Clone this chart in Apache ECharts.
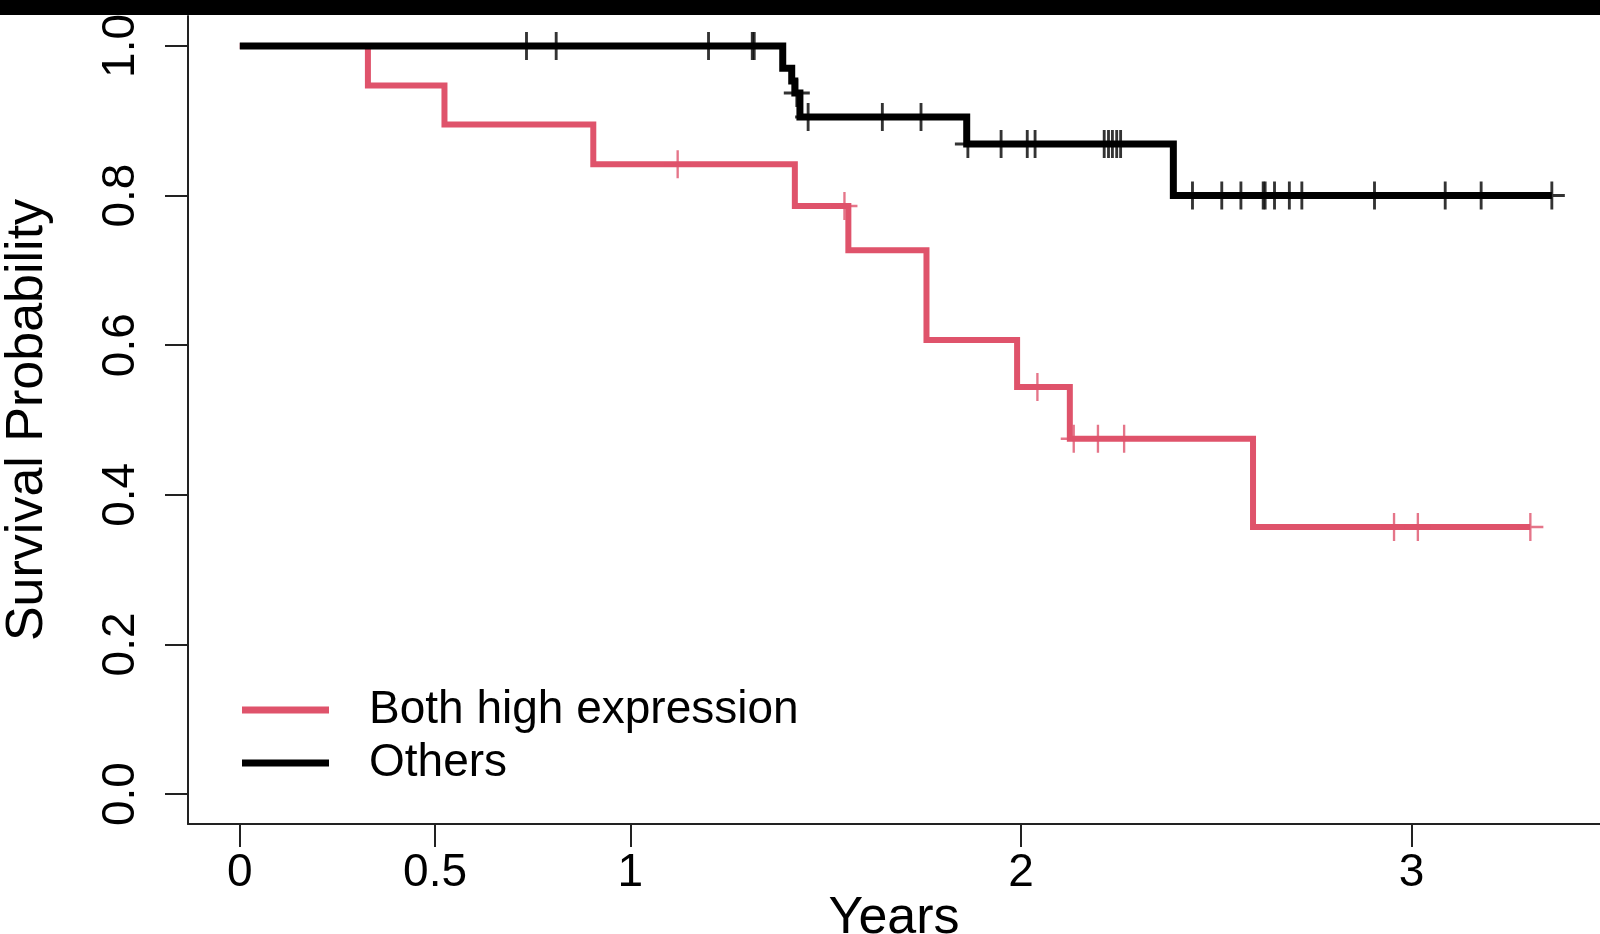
<!DOCTYPE html>
<html>
<head>
<meta charset="utf-8">
<script src="https://cdn.jsdelivr.net/npm/echarts@6/dist/echarts.min.js"></script>
<style>
  html, body { margin: 0; padding: 0; background: #fff; }
  #chart { width: 1600px; height: 934px; }
</style>
</head>
<body>
<div id="chart"></div>
<script>
// ---- Data (years, survival probability) ----
const seriesNames = ['Both high expression', 'Others'];
const seriesColors = ['#DF536B', '#000000'];

// Group 1: Both high expression — event times and survival after each step
const redTimes = [0, 0.328, 0.524, 0.905, 1.421, 1.558, 1.758, 1.990, 2.125, 2.594];
const redSurv  = [1.0, 0.947, 0.895, 0.842, 0.786, 0.727, 0.607, 0.544, 0.475, 0.357];
const redEnd   = 3.304;
const redCensor = [1.121, 1.548, 2.042, 2.135, 2.197, 2.264, 2.955, 3.016, 3.304];

// Group 2: Others
const blackTimes = [0, 1.390, 1.413, 1.421, 1.434, 1.861, 2.390];
const blackSurv  = [1.0, 0.970, 0.953, 0.937, 0.905, 0.869, 0.800];
const blackEnd   = 3.359;
const blackCensor = [0.734, 0.810, 1.200, 1.312, 1.317, 1.426, 1.455, 1.645, 1.744,
  1.864, 1.949, 2.016, 2.036, 2.213, 2.224, 2.234, 2.245, 2.255,
  2.439, 2.514, 2.563, 2.620, 2.625, 2.649, 2.687, 2.719, 2.905, 3.086, 3.178, 3.359];

// Axis ticks
const xTicks = [0, 0.5, 1, 2, 3];
const yTicks = [0, 0.2, 0.4, 0.6, 0.8, 1.0];

// ---- Helpers building series data from the arrays ----
function stepData(times, surv, end) {
  const d = times.map((t, i) => [t, surv[i]]);
  d.push([end, surv[surv.length - 1]]);
  return d;
}
function survAt(times, surv, t) {
  let v = surv[0];
  for (let i = 0; i < times.length; i++) { if (times[i] <= t) v = surv[i]; }
  return v;
}
function censorData(times, surv, cens) {
  return cens.map(t => [t, survAt(times, surv, t)]);
}

const FONT = '"Liberation Sans", Arial, Helvetica, sans-serif';
const plusRed   = 'path://M45.5,0H54.5V45.5H100V54.5H54.5V100H45.5V54.5H0V45.5H45.5Z';
const plusBlack = 'path://M44.5,0H55.5V44.5H100V55.5H55.5V100H44.5V55.5H0V44.5H44.5Z';

const chart = echarts.init(document.getElementById('chart'), null, { renderer: 'canvas' });
chart.setOption({
  animation: false,
  backgroundColor: '#ffffff',
  grid: { left: 188, right: 0, top: 16, bottom: 110, containLabel: false, outerBoundsMode: 'none' },
  xAxis: {
    type: 'value',
    min: -0.1326, max: 3.4823,
    name: 'Years',
    nameLocation: 'middle',
    nameGap: 69,
    nameMoveOverlap: false,
    nameTextStyle: { fontFamily: FONT, fontSize: 52, color: '#000' },
    axisLine: { show: true, onZero: false, lineStyle: { color: '#222', width: 2 } },
    axisTick: { show: true, inside: false, length: 23, customValues: xTicks, lineStyle: { color: '#222', width: 2 } },
    axisLabel: { customValues: xTicks, margin: 26, fontFamily: FONT, fontSize: 46, color: '#000',
      formatter: v => String(v) },
    splitLine: { show: false }
  },
  yAxis: {
    type: 'value',
    min: -0.04, max: 1.04,
    name: 'Survival Probability',
    nameLocation: 'middle',
    nameRotate: 90,
    nameGap: 134,
    nameMoveOverlap: false,
    nameTextStyle: { fontFamily: FONT, fontSize: 52, color: '#000' },
    axisLine: { show: true, onZero: false, lineStyle: { color: '#222', width: 2 } },
    axisTick: { show: true, inside: false, length: 23, customValues: yTicks, lineStyle: { color: '#222', width: 2 } },
    axisLabel: { customValues: yTicks, rotate: 90, margin: 44, fontFamily: FONT, fontSize: 46, color: '#000',
      formatter: v => v.toFixed(1) },
    splitLine: { show: false }
  },
  legend: {
    orient: 'vertical',
    left: 242, top: 687,
    padding: 0,
    data: seriesNames,
    icon: 'rect',
    itemWidth: 87, itemHeight: 7,
    itemGap: 7,
    textStyle: { fontFamily: FONT, fontSize: 46, lineHeight: 46, color: '#000', padding: [0, 0, 0, 35] }
  },
  series: [
    {
      name: seriesNames[0], type: 'line', step: 'end', showSymbol: false,
      color: seriesColors[0], itemStyle: { color: seriesColors[0] },
      lineStyle: { color: seriesColors[0], width: 6, join: 'miter' },
      data: stepData(redTimes, redSurv, redEnd), z: 2
    },
    {
      name: 'Both high expression (censored)', type: 'scatter',
      symbol: plusRed, symbolSize: [26, 28],
      itemStyle: { color: seriesColors[0] },
      data: censorData(redTimes, redSurv, redCensor), z: 3
    },
    {
      name: seriesNames[1], type: 'line', step: 'end', showSymbol: false,
      color: seriesColors[1], itemStyle: { color: seriesColors[1] },
      lineStyle: { color: seriesColors[1], width: 7, join: 'miter' },
      data: stepData(blackTimes, blackSurv, blackEnd), z: 4
    },
    {
      name: 'Others (censored)', type: 'scatter',
      symbol: plusBlack, symbolSize: [26, 28],
      itemStyle: { color: seriesColors[1] },
      data: censorData(blackTimes, blackSurv, blackCensor), z: 5
    }
  ],
  graphic: [
    { type: 'rect', shape: { x: 0, y: 0, width: 1600, height: 15 }, style: { fill: '#000' }, z: 100 }
  ]
});
</script>
</body>
</html>
